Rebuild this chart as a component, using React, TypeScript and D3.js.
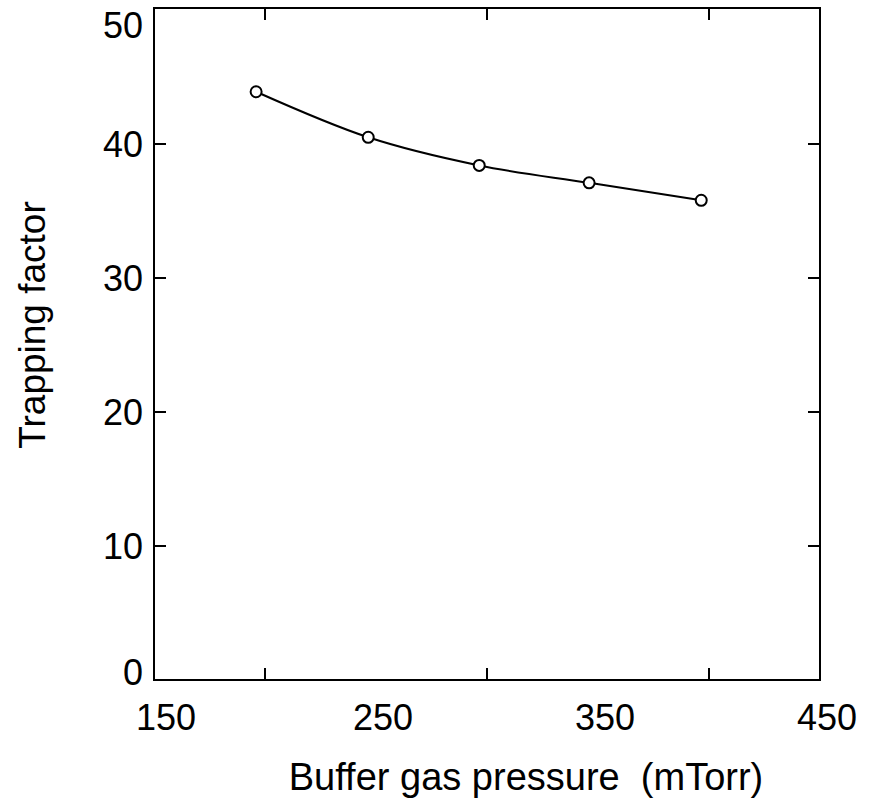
import React from "react";
import * as d3 from "d3";

const pressures = [196, 246.5, 296.5, 346, 396.5];
const trapping = [43.9, 40.5, 38.4, 37.1, 35.8];
const xTickValues = [200, 300, 400];
const xLabelValues = [150, 250, 350, 450];
const yTickValues = [10, 20, 30, 40];
const yLabelValues = [0, 10, 20, 30, 40, 50];

const W = 872;
const H = 801;
const left = 154;
const right = 820;
const top = 8;
const bottom = 680;
const font = "'Liberation Sans', Arial, Helvetica, sans-serif";

export default function App() {
  const x = d3.scaleLinear().domain([150, 450]).range([left, right]);
  const y = d3.scaleLinear().domain([0, 50]).range([bottom, top + 2]);
  const line = d3
    .line<number>()
    .x((_, i) => x(pressures[i]))
    .y((d) => y(d))
    .curve(d3.curveMonotoneX);
  const tickLen = 12;
  return (
    <svg
      width={W}
      height={H}
      style={{ position: "absolute", left: 0, top: 0, background: "#fff" }}
      fontFamily={font}
    >
      <rect x={0} y={0} width={W} height={H} fill="#fff" />
      <rect
        x={left}
        y={top}
        width={right - left}
        height={bottom - top}
        fill="none"
        stroke="#000"
        strokeWidth={2}
      />
      {xTickValues.map((v) => (
        <g key={"xt" + v}>
          <line x1={x(v)} x2={x(v)} y1={bottom} y2={bottom - tickLen} stroke="#000" strokeWidth={2} />
          <line x1={x(v)} x2={x(v)} y1={top} y2={top + tickLen} stroke="#000" strokeWidth={2} />
        </g>
      ))}
      {yTickValues.map((v) => (
        <g key={"yt" + v}>
          <line x1={left} x2={left + tickLen} y1={y(v)} y2={y(v)} stroke="#000" strokeWidth={2} />
          <line x1={right} x2={right - tickLen} y1={y(v)} y2={y(v)} stroke="#000" strokeWidth={2} />
        </g>
      ))}
      {xLabelValues.map((v) => (
        <text
          key={"xl" + v}
          x={Math.max(x(v) + 7, 166)}
          y={730}
          fontSize={36}
          textAnchor="middle"
          fill="#000"
        >
          {v}
        </text>
      ))}
      {yLabelValues.map((v) => (
        <text
          key={"yl" + v}
          x={143}
          y={Math.min(Math.max(y(v), 25), 672)}
          fontSize={36}
          textAnchor="end"
          dominantBaseline="central"
          fill="#000"
        >
          {v}
        </text>
      ))}
      <path d={line(trapping) || ""} fill="none" stroke="#000" strokeWidth={2} />
      {trapping.map((v, i) => (
        <circle
          key={"p" + i}
          cx={x(pressures[i])}
          cy={y(v)}
          r={5.5}
          fill="#fff"
          stroke="#000"
          strokeWidth={2}
        />
      ))}
      <text x={526} y={790} fontSize={38} textAnchor="middle" fill="#000">
        Buffer gas pressure{"\u00a0\u00a0"}(mTorr)
      </text>
      <text
        transform={`translate(45, 325) rotate(-90)`}
        fontSize={37}
        textAnchor="middle"
        fill="#000"
      >
        Trapping factor
      </text>
    </svg>
  );
}
